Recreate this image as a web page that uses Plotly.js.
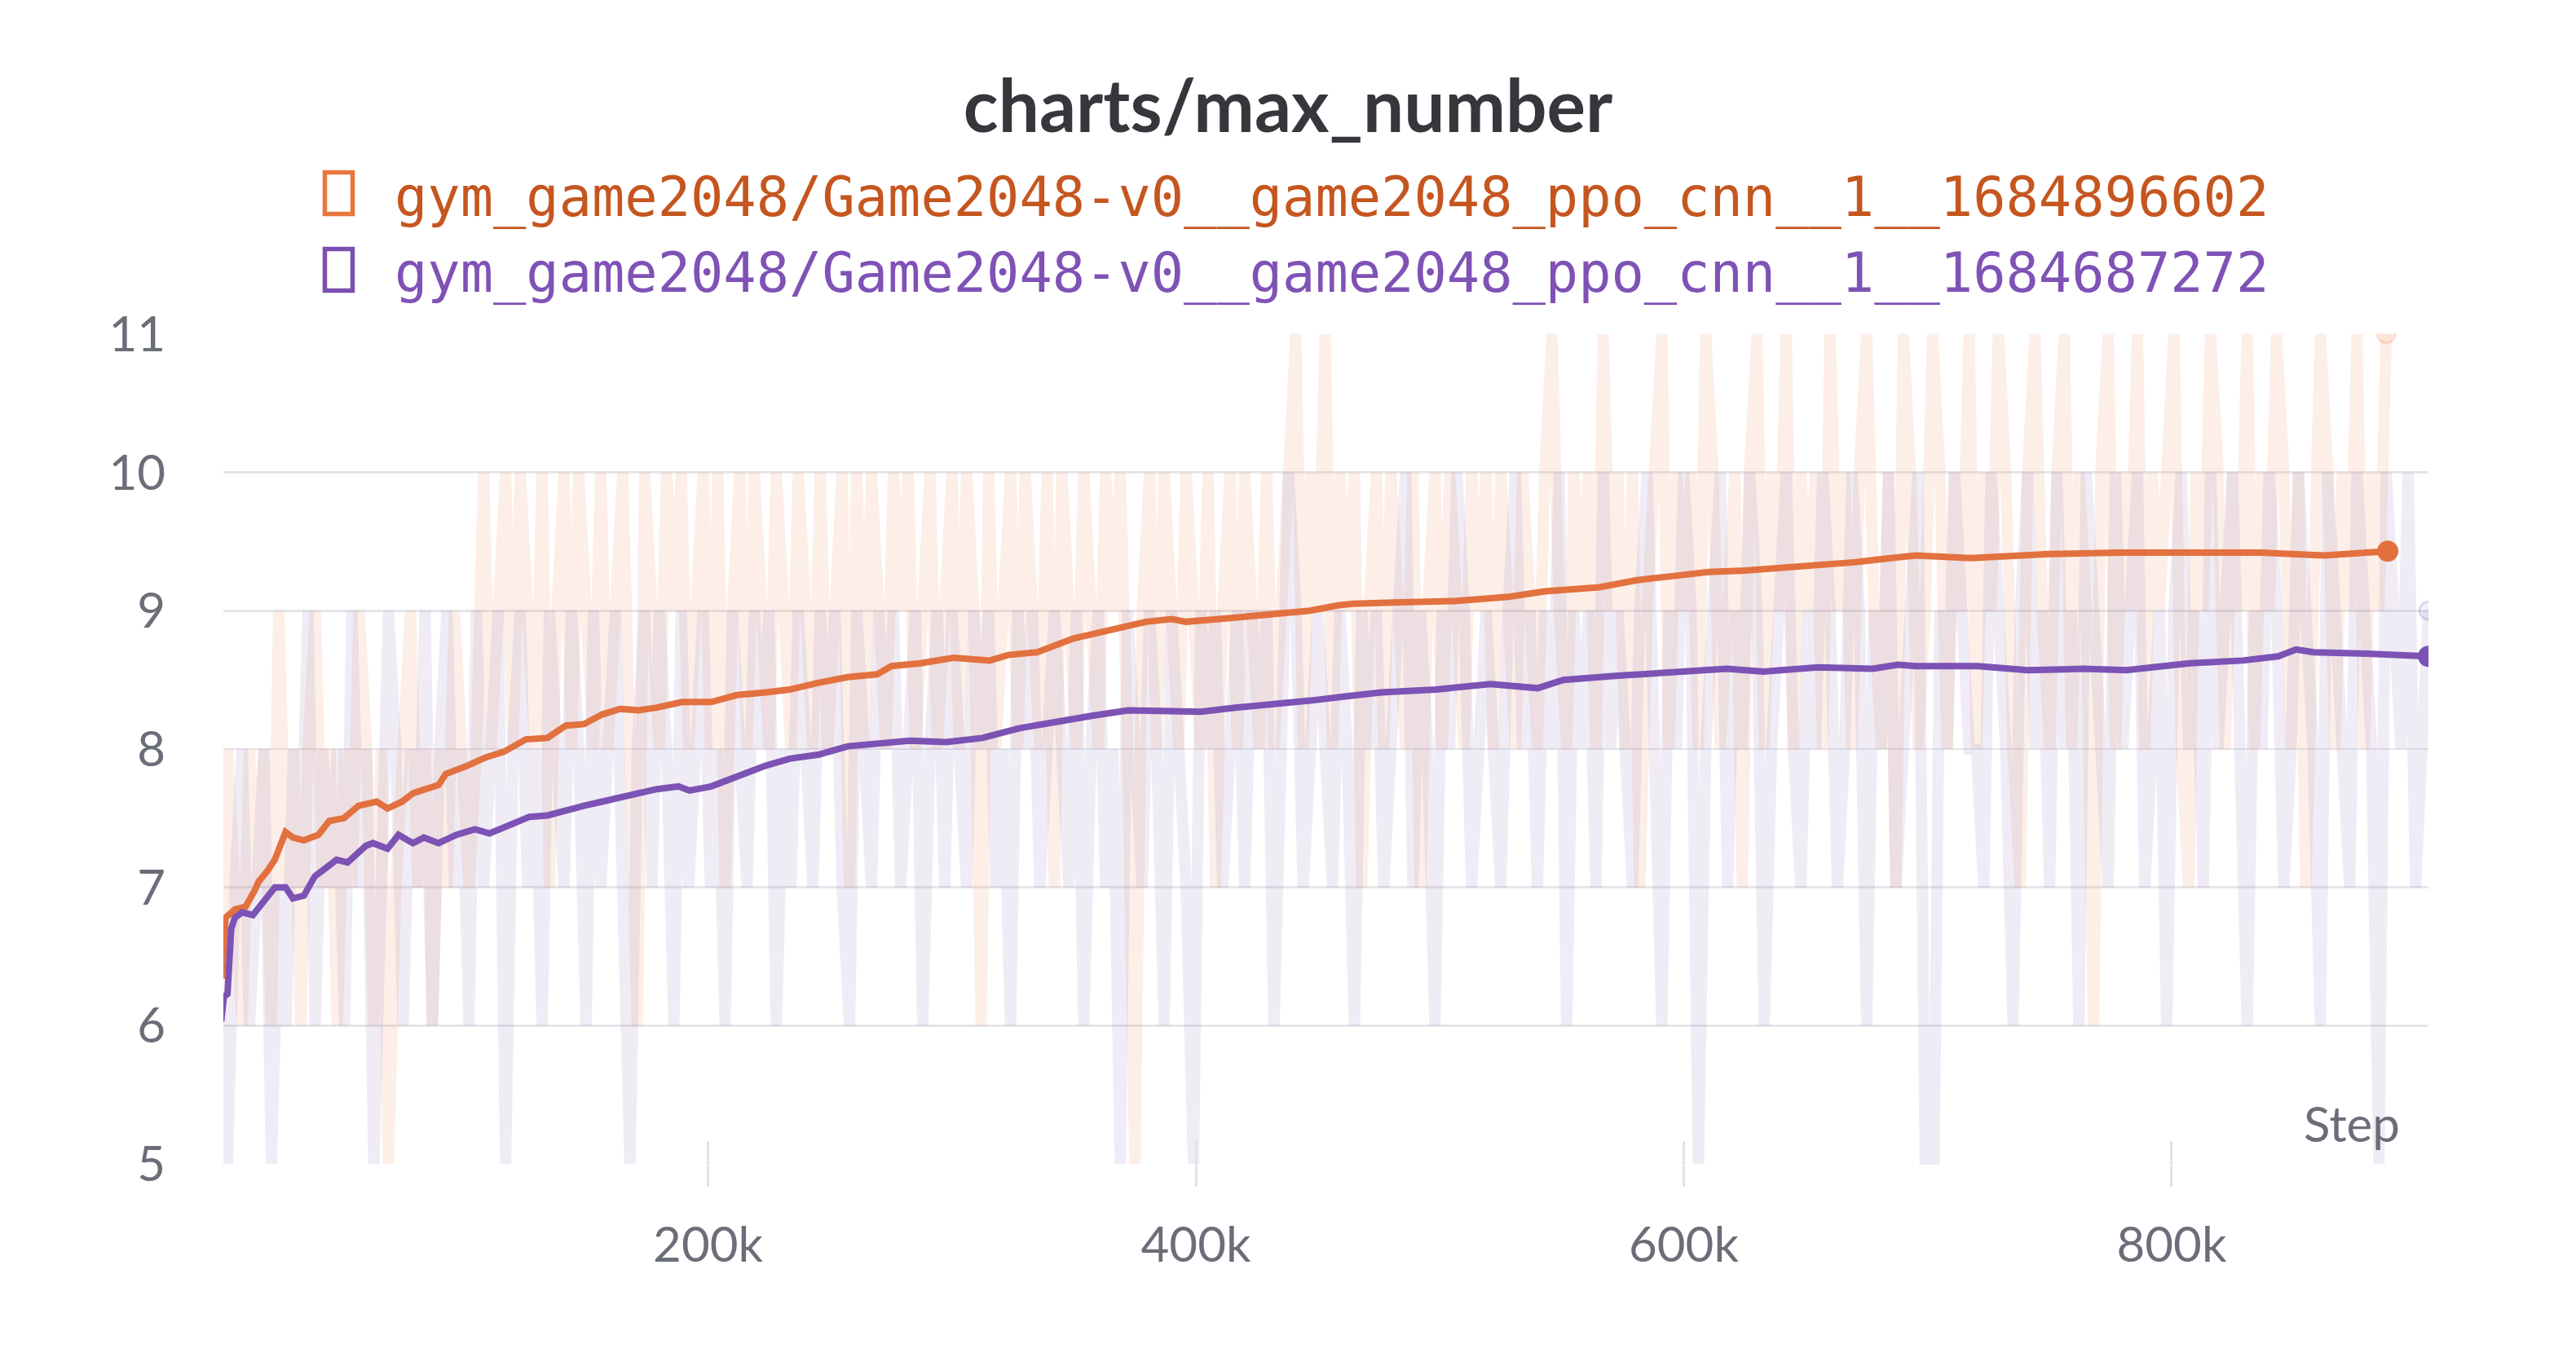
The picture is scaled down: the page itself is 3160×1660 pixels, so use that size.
<!DOCTYPE html>
<html>
<head>
<meta charset="utf-8">
<script src="https://cdn.plot.ly/plotly-3.0.1.min.js"></script>
<style>
  html, body { margin: 0; padding: 0; background: #fff; }
  #plotArea { width: 3160px; height: 1660px; }
</style>
</head>
<body>
<div id="plotArea"></div>
<script>
// run names
var orangeName = "gym_game2048/Game2048-v0__game2048_ppo_cnn__1__1684896602";
var purpleName = "gym_game2048/Game2048-v0__game2048_ppo_cnn__1__1684687272";

// smoothed curves (steps in thousands)
var orangeStep = [0.7, 2.2, 6, 10.4, 14.2, 15.7, 19.4, 22.4, 24.6, 26.8, 29.8, 34.3, 40.3, 44.7, 50.7,
  56.7, 64.1, 68.6, 74.6, 79, 89.5, 92.5, 101.4, 108.9, 116.3, 125.3, 134.2, 141.7, 149.1, 156.6,
  164, 171.5, 179, 189.4, 201.3, 211.8, 223.7, 233.4, 245.4, 257.3, 269.3, 275.2, 287.2, 300.6, 315.5,
  323, 334.9, 349.8, 364.7, 379.6, 390.1, 396, 409.5, 424.4, 436.3, 446.8, 458.7, 464.4, 483.5, 505.8,
  528.2, 543.1, 565.5, 580.4, 595.3, 610.2, 625.2, 640.1, 655, 669.9, 684.8, 695, 717.7, 749.6, 778.5,
  807.5, 836.5, 862.6, 888.6];
var orangeSmooth = [6.34, 6.78, 6.84, 6.86, 6.98, 7.04, 7.12, 7.2, 7.3, 7.4, 7.36, 7.34, 7.38, 7.48, 7.5,
  7.59, 7.62, 7.57, 7.62, 7.68, 7.74, 7.82, 7.88, 7.94, 7.98, 8.07, 8.08, 8.17, 8.18, 8.25,
  8.29, 8.28, 8.3, 8.34, 8.34, 8.39, 8.41, 8.43, 8.48, 8.52, 8.54, 8.6, 8.62, 8.66, 8.64,
  8.68, 8.7, 8.8, 8.86, 8.92, 8.94, 8.92, 8.94, 8.96, 8.98, 9.0, 9.04, 9.05, 9.06, 9.07,
  9.1, 9.14, 9.17, 9.22, 9.25, 9.28, 9.29, 9.31, 9.32, 9.35, 9.38, 9.4, 9.38, 9.41, 9.42,
  9.42, 9.42, 9.4, 9.43];

var purpleStep = [0.4, 1.5, 3, 4.5, 6, 9, 13.4, 17.9, 22.4, 26.8, 29.8, 34.3, 38.8, 43.3, 47.7,
  52.2, 59.7, 62.6, 68.6, 73.1, 79, 83.5, 89.5, 96.9, 104.4, 110.4, 119.3, 126.8, 134.2, 141.7,
  149.1, 156.6, 164, 171.5, 179, 187.9, 192.4, 201.3, 208.8, 216.3, 223.7, 233.4, 245.4, 257.3, 269.3,
  282.7, 297.6, 312.5, 327.4, 342.4, 357.3, 372.2, 387.1, 402, 416.9, 431.8, 446.8, 461.1, 476, 498.4,
  520.8, 540.1, 550.6, 573, 595.3, 617.7, 632.6, 655, 677.4, 687.8, 695, 720.6, 740.9, 764, 781.4,
  807.5, 829.2, 843.7, 851, 858.2, 880, 894.4, 905.3];
var purpleSmooth = [6.03, 6.21, 6.23, 6.7, 6.78, 6.82, 6.8, 6.9, 7.0, 7.0, 6.92, 6.94, 7.08, 7.14, 7.2,
  7.18, 7.3, 7.32, 7.28, 7.38, 7.32, 7.36, 7.32, 7.38, 7.42, 7.39, 7.46, 7.51, 7.52, 7.56,
  7.59, 7.62, 7.65, 7.68, 7.71, 7.73, 7.7, 7.73, 7.78, 7.84, 7.88, 7.93, 7.96, 8.02, 8.04,
  8.06, 8.05, 8.08, 8.15, 8.2, 8.24, 8.28, 8.27, 8.27, 8.3, 8.32, 8.35, 8.38, 8.41, 8.43,
  8.47, 8.44, 8.5, 8.53, 8.55, 8.58, 8.56, 8.59, 8.58, 8.61, 8.6, 8.6, 8.57, 8.58, 8.57,
  8.62, 8.64, 8.67, 8.72, 8.7, 8.69, 8.68, 8.67];

// raw logged values (steps in thousands)
var rawStep = [0, 3, 6, 9, 12, 15, 18, 21, 24, 27, 30, 33, 36, 39, 42, 45, 48, 51, 54, 57,
  60, 63, 66, 69, 72, 75, 78, 81, 84, 87, 90, 93, 96, 99, 102, 105, 108, 111, 114, 117,
  120, 123, 126, 129, 132, 135, 138, 141, 144, 147, 150, 153, 156, 159, 162, 165, 168, 171, 174, 177,
  180, 183, 186, 189, 192, 195, 198, 201, 204, 207, 210, 213, 216, 219, 222, 225, 228, 231, 234, 237,
  240, 243, 246, 249, 252, 255, 258, 261, 264, 267, 270, 273, 276, 279, 282, 285, 288, 291, 294, 297,
  300, 303, 306, 309, 312, 315, 318, 321, 324, 327, 330, 333, 336, 339, 342, 345, 348, 351, 354, 357,
  360, 363, 366, 369, 372, 375, 378, 381, 384, 387, 390, 393, 396, 399, 402, 405, 408, 411, 414, 417,
  420, 423, 426, 429, 432, 435, 438, 441, 444, 447, 450, 453, 456, 459, 462, 465, 468, 471, 474, 477,
  480, 483, 486, 489, 492, 495, 498, 501, 504, 507, 510, 513, 516, 519, 522, 525, 528, 531, 534, 537,
  540, 543, 546, 549, 552, 555, 558, 561, 564, 567, 570, 573, 576, 579, 582, 585, 588, 591, 594, 597,
  600, 603, 606, 609, 612, 615, 618, 621, 624, 627, 630, 633, 636, 639, 642, 645, 648, 651, 654, 657,
  660, 663, 666, 669, 672, 675, 678, 681, 684, 687, 690, 693, 696, 699, 702, 705, 708, 711, 714, 717,
  720, 723, 726, 729, 732, 735, 738, 741, 744, 747, 750, 753, 756, 759, 762, 765, 768, 771, 774, 777,
  780, 783, 786, 789, 792, 795, 798, 801, 804, 807, 810, 813, 816, 819, 822, 825, 828, 831, 834, 837,
  840, 843, 846, 849, 852, 855, 858, 861, 864, 867, 870, 873, 876, 879, 882, 885, 888, 891, 894, 897,
  900, 905.3];
var orangeRaw = [6, 8, 7, 6, 8, 7, 8, 6, 9, 7, 8, 6, 8, 9, 7, 8, 6, 8, 7, 9,
  8, 6, 8, 5, 7, 8, 9, 7, 8, 6, 8, 7, 9, 8, 7, 8, 10, 8, 9, 10,
  8, 10, 9, 8, 10, 7, 9, 10, 8, 10, 9, 8, 10, 8, 9, 10, 8, 6, 10, 9,
  8, 10, 9, 10, 8, 9, 10, 8, 10, 7, 9, 10, 8, 10, 9, 8, 10, 9, 8, 10,
  9, 8, 10, 8, 9, 10, 7, 10, 8, 10, 9, 8, 10, 9, 10, 8, 9, 10, 8, 9,
  10, 8, 10, 9, 6, 10, 8, 9, 10, 8, 10, 9, 8, 10, 7, 10, 9, 8, 10, 9,
  8, 10, 9, 10, 8, 5, 9, 10, 8, 10, 9, 8, 10, 9, 8, 10, 7, 9, 10, 8,
  10, 9, 8, 10, 8, 9, 10, 11, 8, 10, 9, 11, 8, 10, 9, 10, 7, 9, 10, 8,
  10, 9, 8, 10, 7, 9, 10, 8, 10, 9, 8, 10, 9, 10, 8, 10, 9, 8, 10, 9,
  8, 10, 11, 9, 8, 10, 9, 10, 8, 11, 9, 10, 8, 10, 7, 9, 10, 11, 8, 10,
  9, 10, 8, 11, 10, 8, 9, 10, 7, 10, 11, 8, 10, 9, 11, 8, 10, 9, 10, 8,
  11, 9, 10, 8, 10, 11, 9, 8, 10, 7, 11, 10, 8, 9, 11, 10, 8, 10, 9, 11,
  8, 10, 9, 11, 10, 8, 7, 10, 11, 9, 8, 10, 11, 8, 10, 9, 6, 10, 11, 8,
  10, 9, 11, 8, 10, 9, 10, 11, 8, 7, 10, 9, 11, 10, 8, 10, 9, 11, 8, 10,
  9, 11, 10, 8, 10, 7, 9, 11, 10, 8, 10, 9, 11, 8, 10, 9, 11];
var purpleRaw = [6, 5, 7, 8, 6, 7, 8, 5, 7, 6, 8, 7, 9, 6, 8, 7, 8, 6, 9, 7,
  8, 5, 7, 9, 8, 6, 8, 7, 9, 6, 8, 9, 7, 8, 6, 9, 7, 8, 9, 5,
  8, 9, 7, 8, 6, 9, 8, 7, 9, 8, 6, 9, 7, 8, 9, 7, 5, 8, 9, 7,
  9, 8, 6, 9, 7, 8, 9, 7, 8, 6, 9, 8, 7, 9, 8, 9, 6, 8, 7, 9,
  8, 7, 9, 8, 9, 7, 6, 9, 8, 7, 9, 8, 9, 7, 8, 9, 6, 8, 9, 7,
  9, 8, 7, 9, 8, 9, 7, 8, 6, 9, 8, 9, 7, 8, 9, 8, 7, 9, 6, 8,
  9, 7, 8, 5, 9, 8, 7, 9, 8, 6, 9, 8, 7, 5, 9, 8, 9, 7, 8, 9,
  7, 9, 8, 9, 6, 8, 10, 9, 7, 8, 9, 8, 7, 9, 8, 6, 9, 8, 9, 7,
  8, 9, 10, 7, 9, 8, 6, 9, 8, 10, 9, 7, 8, 9, 8, 7, 9, 10, 8, 9,
  7, 9, 8, 10, 6, 9, 8, 9, 7, 10, 8, 9, 8, 7, 9, 10, 8, 6, 9, 8,
  10, 9, 5, 8, 9, 10, 7, 9, 8, 10, 9, 6, 8, 9, 10, 8, 7, 9, 8, 10,
  9, 7, 8, 10, 9, 6, 9, 8, 10, 7, 8, 9, 10, 5, 4, 9, 8, 10, 9, 8,
  8, 7, 10, 9, 8, 6, 9, 10, 8, 9, 7, 10, 8, 9, 6, 10, 9, 8, 7, 10,
  8, 9, 10, 7, 8, 9, 6, 9, 10, 8, 9, 7, 10, 8, 9, 10, 8, 6, 9, 8,
  10, 9, 7, 8, 10, 9, 8, 6, 10, 9, 8, 7, 10, 9, 8, 5, 10, 9, 8, 10,
  7, 9];

var yTicks = [5, 6, 7, 8, 9, 10, 11];

var orangeColor = "#e2713f";
var purpleColor = "#7c52b4";

function k(arr) { return arr.map(function (v) { return v * 1000; }); }
function last(arr) { return arr[arr.length - 1]; }
// pixel helpers for page furniture (legend keys and labels)
function px(x) { return (x - 274) / 2705; }
function py(y) { return (1429 - y) / 1020; }

var orangeRawX = k(rawStep.slice(0, orangeRaw.length));
var purpleRawX = k(rawStep.slice(0, purpleRaw.length));

var data = [
  {x: orangeRawX, y: orangeRaw, type: "scatter", mode: "lines", name: orangeName,
   line: {color: "rgba(236,132,80,0.13)", width: 14}, showlegend: false, hoverinfo: "skip"},
  {x: purpleRawX, y: purpleRaw, type: "scatter", mode: "lines", name: purpleName,
   line: {color: "rgba(125,95,185,0.12)", width: 14}, showlegend: false, hoverinfo: "skip"},
  {x: k(orangeStep), y: orangeSmooth, type: "scatter", mode: "lines", name: orangeName,
   line: {color: orangeColor, width: 8}, showlegend: false},
  {x: k(purpleStep), y: purpleSmooth, type: "scatter", mode: "lines", name: purpleName,
   line: {color: purpleColor, width: 8}, showlegend: false},
  // last raw points (faint rings)
  {x: [last(orangeRawX), last(purpleRawX)], y: [last(orangeRaw), last(purpleRaw)],
   type: "scatter", mode: "markers", xaxis: "x2", showlegend: false,
   marker: {size: 22, color: ["rgba(236,132,80,0.10)", "rgba(125,95,185,0.10)"],
            line: {width: 3, color: ["rgba(236,132,80,0.22)", "rgba(125,95,185,0.22)"]}}},
  // end dots of smoothed lines
  {x: [last(k(orangeStep)), last(k(purpleStep))], y: [last(orangeSmooth), last(purpleSmooth)],
   type: "scatter", mode: "markers", showlegend: false,
   marker: {size: 26, color: [orangeColor, purpleColor]}}
];

var tickFont = {family: "Lato, 'Noto Sans', sans-serif", size: 60, color: "#6b6e78"};
var legendFont = "'DejaVu Sans Mono', monospace";

var layout = {
  width: 3160,
  height: 1660,
  margin: {l: 274, r: 181, t: 409, b: 231},
  paper_bgcolor: "#ffffff",
  plot_bgcolor: "#ffffff",
  showlegend: false,
  hovermode: false,
  title: {
    text: "charts/max_number",
    font: {family: "Lato, 'Noto Sans', sans-serif", size: 89, color: "#35373c", weight: "bold"},
    x: 0.5, xanchor: "center", xref: "container",
    y: 1 - 131 / 1660, yanchor: "middle", yref: "container"
  },
  xaxis: {
    range: [1300, 905300],
    tick0: 0, dtick: 200000, tickformat: "~s",
    showgrid: false, zeroline: false, showline: false,
    ticks: "outside", ticklen: 26, tickwidth: 3, tickcolor: "#e3e3e8",
    tickfont: tickFont, ticklabelstandoff: 20
  },
  xaxis2: {
    overlaying: "x", matches: "x", anchor: "y", side: "bottom",
    tick0: 0, dtick: 200000,
    showgrid: false, zeroline: false, showline: false, showticklabels: false,
    ticks: "inside", ticklen: 29, tickwidth: 3, tickcolor: "#e3e3e8"
  },
  yaxis: {
    range: [4.995, 11.005],
    tickvals: yTicks,
    showgrid: true, gridcolor: "#e6e6ea", gridwidth: 2.5,
    zeroline: false, showline: false, ticks: "",
    tickfont: tickFont, ticklabelstandoff: 70
  },
  // legend keys (hollow boxes)
  shapes: [
    {type: "rect", xref: "paper", yref: "paper", x0: px(398.5), x1: px(432.5), y0: py(211.5), y1: py(262.5),
     line: {color: "#e8773d", width: 5.5}, fillcolor: "rgba(0,0,0,0)"},
    {type: "rect", xref: "paper", yref: "paper", x0: px(398.5), x1: px(432.5), y0: py(305.5), y1: py(356.5),
     line: {color: "#7b4fb0", width: 5.5}, fillcolor: "rgba(0,0,0,0)"}
  ],
  annotations: [
    {xref: "paper", yref: "paper", x: px(482), y: py(242), xanchor: "left", yanchor: "middle",
     showarrow: false, align: "left",
     font: {family: legendFont, size: 67, color: "#c5561f"}, text: orangeName},
    {xref: "paper", yref: "paper", x: px(482), y: py(335), xanchor: "left", yanchor: "middle",
     showarrow: false, align: "left",
     font: {family: legendFont, size: 67, color: "#7f52b6"}, text: purpleName},
    {xref: "paper", yref: "paper", x: px(2946), y: py(1378),
     xanchor: "right", yanchor: "middle", showarrow: false,
     font: tickFont, text: "Step"}
  ]
};

Plotly.newPlot("plotArea", data, layout, {staticPlot: true, displayModeBar: false});
</script>
</body>
</html>
